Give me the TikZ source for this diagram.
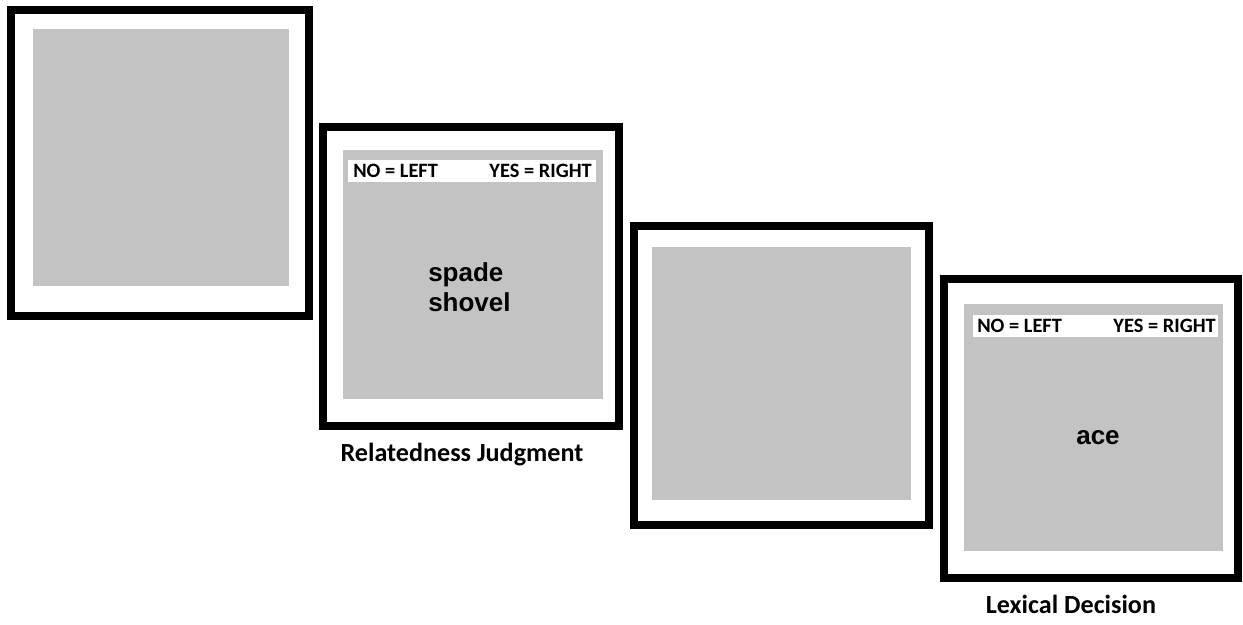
\documentclass[tikz,border=0pt]{standalone}
\usepackage{fontspec}
\setmainfont{Carlito}
\newfontfamily\wordfont{Liberation Sans}
\usetikzlibrary{positioning}
\definecolor{screengray}{RGB}{195,195,195}
\tikzset{
  frame/.style={draw=black,line width=6pt,inner sep=0pt,fill=white},
  screen/.style={fill=screengray,inner sep=0pt},
  keyband/.style={fill=white,inner sep=0pt,minimum width=#1*0.75pt,
    minimum height=16.5pt},
  keylbl/.style={font=\fontsize{15.3}{17}\selectfont\bfseries,inner sep=0pt},
  stimword/.style={font=\wordfont\fontsize{19.5}{22.5}\selectfont\bfseries,
    inner sep=0pt,align=left},
  tasklbl/.style={font=\fontsize{19.6}{22}\selectfont\bfseries,inner sep=0pt},
}
\begin{document}
\begin{tikzpicture}[x=0.75pt,y=-0.75pt]
  \useasboundingbox (0,0) rectangle (1243,625);
  % frames
  \node[frame,minimum width=223.5pt,minimum height=229.5pt] (f1) at (160,163) {};
  \node[frame,minimum width=222pt,minimum height=224.25pt] (f2) at (471,276.5) {};
  \node[frame,minimum width=221.25pt,minimum height=224.25pt] (f3) at (781.5,375.5) {};
  \node[frame,minimum width=220.5pt,minimum height=224.25pt] (f4) at (1091,428.5) {};
  % grey screens
  \node[screen,minimum width=192pt,minimum height=192.75pt] (s1) at (161,157.5) {};
  \node[screen,minimum width=195pt,minimum height=186.75pt] (s2) at (473,274.5) {};
  \node[screen,minimum width=194.25pt,minimum height=189.75pt] (s3) at (781.5,373.5) {};
  \node[screen,minimum width=194.25pt,minimum height=185.25pt] (s4) at (1093.5,427.5) {};
  % response keys
  \node[keyband=248] (k2) at (472,171) {};
  \node[keylbl,anchor=base west] (no2) at (353,177) {NO = LEFT};
  \node[keylbl,anchor=base east] (yes2) at (592,177) {YES = RIGHT};
  \node[keyband=245] (k4) at (1095.5,326) {};
  \node[keylbl,anchor=base west] (no4) at (977,332) {NO = LEFT};
  \node[keylbl,anchor=base east] (yes4) at (1216,332) {YES = RIGHT};
  % stimuli
  \node[stimword,anchor=west] (pair) at (428,287) {spade\\shovel};
  \node[stimword] (target) at (1098,438) {ace};
  % task names
  \node[tasklbl,anchor=base] (rj) at (462,461) {Relatedness Judgment};
  \node[tasklbl,anchor=base] (ld) at (1071,613) {Lexical Decision};
\end{tikzpicture}
\end{document}
